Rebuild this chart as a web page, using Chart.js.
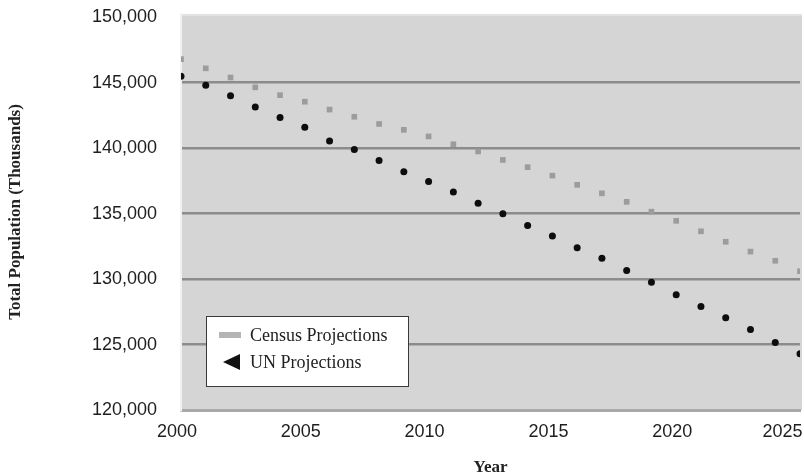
<!DOCTYPE html>
<html>
<head>
<meta charset="utf-8">
<script src="https://cdn.jsdelivr.net/npm/chart.js@4"></script>
<style>
  html, body { margin: 0; padding: 0; background: #ffffff; overflow: hidden; }
  #wrap { width: 804px; height: 476px; position: relative; }
  canvas { display: block; }
</style>
</head>
<body>
<div id="wrap"><canvas id="c" width="804" height="476"></canvas></div>
<script>
// ---- Data ----
const years = [2000, 2001, 2002, 2003, 2004, 2005, 2006, 2007, 2008, 2009,
               2010, 2011, 2012, 2013, 2014, 2015, 2016, 2017, 2018, 2019,
               2020, 2021, 2022, 2023, 2024, 2025];
const censusValues = [146800, 146100, 145400, 144650, 144050, 143550, 142950, 142400, 141850, 141400,
                      140900, 140300, 139750, 139100, 138550, 137900, 137200, 136550, 135900, 135150,
                      134450, 133650, 132850, 132100, 131400, 130600];
const unValues = [145500, 144800, 144000, 143150, 142350, 141600, 140550, 139900, 139050, 138200,
                  137450, 136650, 135800, 135000, 134100, 133300, 132400, 131600, 130650, 129750,
                  128800, 127900, 127050, 126150, 125150, 124300];
const seriesNames = ['Census Projections', 'UN Projections'];
const xTickValues = [2000, 2005, 2010, 2015, 2020, 2025];
const yTickValues = [120000, 125000, 130000, 135000, 140000, 145000, 150000];
const xTitle = 'Year';
const yTitle = 'Total Population (Thousands)';

const toPoints = (vals) => years.map((yr, i) => ({ x: yr, y: vals[i] }));

const plotBg = {
  id: 'plotBg',
  beforeDraw(chart) {
    const { ctx, chartArea: a } = chart;
    ctx.save();
    ctx.fillStyle = '#d5d5d5';
    ctx.fillRect(a.left, a.top, a.right - a.left + 2, a.bottom - a.top);
    ctx.fillStyle = '#e2e2e2';
    ctx.fillRect(a.left, a.top, a.right - a.left + 2, 2);
    ctx.restore();
  }
};

const boxLegend = {
  id: 'boxLegend',
  afterDraw(chart) {
    const { ctx, chartArea: a } = chart;
    const bx = a.left + 25, by = a.bottom - 94, bw = 202, bh = 70;
    ctx.save();
    ctx.fillStyle = '#ffffff';
    ctx.fillRect(bx, by, bw, bh);
    ctx.strokeStyle = '#3a3a3a';
    ctx.lineWidth = 1;
    ctx.strokeRect(bx + 0.5, by + 0.5, bw, bh);
    ctx.font = '18px "Liberation Serif", "Times New Roman", serif';
    ctx.textBaseline = 'middle';
    ctx.textAlign = 'left';
    chart.data.datasets.forEach((ds, i) => {
      const cy = by + 19 + i * 27;
      if (ds.legendMarker === 'bar') {
        ctx.fillStyle = '#b4b4b4';
        ctx.fillRect(bx + 13, cy - 3, 22, 6);
      } else {
        ctx.fillStyle = '#111111';
        ctx.beginPath();
        ctx.moveTo(bx + 17, cy);
        ctx.lineTo(bx + 34, cy - 8);
        ctx.lineTo(bx + 34, cy + 8);
        ctx.closePath();
        ctx.fill();
      }
      ctx.fillStyle = '#222222';
      ctx.fillText(ds.label, bx + 44, cy + 1);
    });
    ctx.restore();
  }
};

new Chart(document.getElementById('c'), {
  type: 'scatter',
  data: {
    datasets: [
      {
        label: seriesNames[0],
        data: toPoints(censusValues),
        pointStyle: 'rect',
        pointRadius: 4,
        backgroundColor: '#9c9c9c',
        borderWidth: 0,
        legendMarker: 'bar'
      },
      {
        label: seriesNames[1],
        data: toPoints(unValues),
        pointStyle: 'circle',
        pointRadius: 3.5,
        backgroundColor: '#0d0d0d',
        borderWidth: 0,
        legendMarker: 'triangle'
      }
    ]
  },
  options: {
    responsive: false,
    animation: false,
    devicePixelRatio: 1,
    layout: { padding: { left: 5, top: 14, right: 1, bottom: 0 } },
    plugins: { legend: { display: false }, tooltip: { enabled: false } },
    scales: {
      x: {
        type: 'linear',
        min: 2000,
        max: 2025,
        afterBuildTicks: (axis) => { axis.ticks = xTickValues.map(v => ({ value: v })); },
        afterFit: (s) => { s.paddingRight = 0; s.paddingLeft = 0; s.height = 66; },
        grid: { display: false, drawTicks: false },
        border: { display: true, color: '#a9a9a9', width: 3 },
        ticks: {
          padding: 11,
          labelOffset: -4,
          autoSkip: false,
          maxRotation: 0,
          color: '#1e1e1e',
          font: { family: '"Liberation Sans", Arial, sans-serif', size: 18 },
          callback: (v) => (v === 2025 ? String(v) + '\u2003\u2002' : String(v))
        },
        title: {
          display: true,
          text: xTitle,
          color: '#222222',
          font: { family: '"Liberation Serif", "Times New Roman", serif', size: 17, weight: 'bold' },
          padding: { top: 0, bottom: -2 }
        }
      },
      y: {
        min: 120000,
        max: 150250,
        afterBuildTicks: (axis) => { axis.ticks = yTickValues.map(v => ({ value: v })); },
        afterFit: (s) => { s.width = 176; s.paddingTop = 0; s.paddingBottom = 0; },
        grid: {
          drawTicks: false,
          lineWidth: 2.5,
          color: (ctx) => (ctx.tick && (ctx.tick.value === 150000 || ctx.tick.value === 120000)) ? 'rgba(0,0,0,0)' : '#8c8c8c'
        },
        border: { display: true, color: '#f2f2f2', width: 2 },
        ticks: {
          padding: 24,
          color: '#1e1e1e',
          font: { family: '"Liberation Sans", Arial, sans-serif', size: 18 },
          callback: (v) => Number(v).toLocaleString('en-US')
        },
        title: {
          display: true,
          text: yTitle,
          color: '#222222',
          font: { family: '"Liberation Serif", "Times New Roman", serif', size: 17, weight: 'bold' },
          padding: { top: 0, bottom: 0 }
        }
      }
    }
  },
  plugins: [plotBg, boxLegend]
});
</script>
</body>
</html>
